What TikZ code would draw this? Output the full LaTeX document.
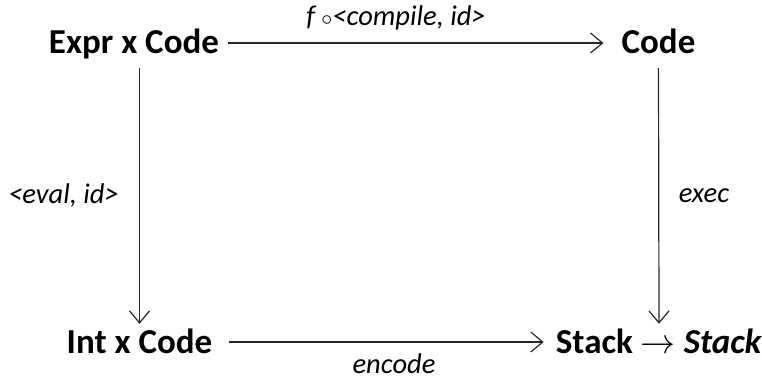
\RequirePackage{fix-cm}
\documentclass[tikz,border=0pt]{standalone}
\usepackage{fontspec}
\setmainfont{Carlito}
\usetikzlibrary{arrows.meta}
\tikzset{
  obj/.style={inner sep=0pt, anchor=base, font=\fontsize{35}{42}\selectfont\bfseries, text height=27pt, text depth=7pt},
  lbl/.style={inner sep=0pt, anchor=base, font=\fontsize{28.5}{34}\selectfont\itshape},
  arr/.style={line width=1.2pt, draw=black!85, -{Straight Barb[length=12pt,width=20pt,line width=1.2pt]}}
}
\begin{document}
\begin{tikzpicture}[x=1pt,y=-1pt]
\useasboundingbox (0,0) rectangle (762,381);
\node[obj] (ec) at (134,53) {Expr x Code};
\node[obj] (cd) at (658.5,53) {Code};
\node[obj] (ic) at (139.5,353) {Int x Code};
\node[obj] (st) at (659,353) {Stack $\rightarrow$ \textit{Stack}};
\node[lbl] (lt) at (396,25) {f {\fontsize{22}{26}\selectfont$\circ$}<compile, id>};
\node[lbl] (ll) at (63.5,203) {<eval, id>};
\node[lbl] (lr) at (704,202) {exec};
\node[lbl] (lb) at (394,373) {encode};
\draw[arr] ([xshift=9pt]ec.east) -- ([xshift=-18pt]cd.west |- ec.east);
\draw[arr] ([yshift=-8pt]ic.north |- ec.south) -- ([yshift=2pt]ic.north);
\draw[arr] ([yshift=-8pt]cd.south) -- ([yshift=2pt]st.north);
\draw[arr] ([xshift=17pt,yshift=1pt]ic.east) -- ([xshift=-12pt,yshift=1pt]st.west |- ic.east);
\end{tikzpicture}
\end{document}
